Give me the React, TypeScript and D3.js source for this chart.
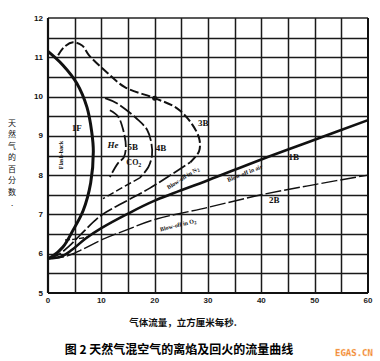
import React from "react";
import * as d3 from "d3";

// ---- data (x: gas flow, cm³/s ; y: % natural gas) ----
const X_TICKS = [0, 10, 20, 30, 40, 50, 60];
const Y_TICKS = [5, 6, 7, 8, 9, 10, 11, 12];

const flashback1F: [number, number][] = [
  [0, 11.15], [2.8, 10.8], [5.4, 10.34], [7.3, 9.73], [8.2, 9.1], [8.5, 8.6],
  [8.0, 7.8], [6.6, 7.1], [4.7, 6.6], [2.8, 6.17], [0.7, 5.92], [0, 5.88],
];
const curve3B: [number, number][] = [
  [1.9, 11.05], [3, 11.26], [4.7, 11.38], [6.4, 11.3], [7.7, 11.05], [11, 10.62],
  [14.4, 10.24], [20, 9.96], [24.2, 9.7], [27, 9.3], [28.4, 8.9], [28.3, 8.6], [26.7, 8.33],
];
const marks3B: [number, number][] = [[3, 11.26], [6.4, 11.3], [7.7, 11.05], [14.4, 10.24], [27, 9.3]];
const dots3B: [number, number][] = [[20, 9.96]];

const curve4B: [number, number][] = [
  [10.7, 9.96], [12.9, 9.83], [16.7, 9.43], [18.6, 9.15], [19.4, 8.8], [19.5, 8.5], [18.8, 8.2], [17.2, 7.93],
];
const tail4B: [number, number][] = [[17.2, 7.93], [13.5, 7.65], [10.3, 7.4]];
const marks4B: [number, number][] = [[12.9, 9.83], [16.7, 9.43], [17.2, 7.93]];

const curve5B: [number, number][] = [
  [11.6, 9.65], [13.1, 9.5], [14.1, 9.15], [14.6, 8.72], [14.2, 8.45], [13.1, 8.3], [11.6, 7.95],
];
const marks5B: [number, number][] = [[13.1, 9.5], [13.1, 8.3]];

const blowN2: [number, number][] = [
  [0, 5.88], [2, 5.98], [4, 6.2], [6, 6.47], [10, 6.98], [14, 7.29], [19.1, 7.67], [26.7, 8.33],
];
const marksN2: [number, number][] = [[14, 7.29], [19.1, 7.67], [26.7, 8.33]];

const shortHe: [number, number][] = [[3.2, 6.35], [5, 6.37], [7.3, 6.42]];
const marksHe: [number, number][] = [[6, 6.4]];

const blowAir: [number, number][] = [
  [0, 5.88], [2.5, 5.93], [4.5, 6.1], [7, 6.38], [10, 6.65], [15, 7.02], [20, 7.35],
  [30, 7.87], [40, 8.4], [50, 8.9], [60, 9.4],
];
const blowO2: [number, number][] = [
  [0, 5.88], [3, 5.92], [6, 6.08], [10, 6.35], [15, 6.62], [20, 6.87], [30, 7.18],
  [40, 7.5], [50, 7.76], [60, 8.0],
];
const marksO2: [number, number][] = [[12.9, 6.5], [30.4, 7.19], [56.6, 7.93]];

const curveLabels = ["1F", "He", "5B", "4B", "3B", "1B", "2B"];
const curveLabelPos: [number, number][] = [
  [5.4, 9.2], [12.2, 8.77], [15.9, 8.72], [21.2, 8.69], [29.1, 9.33], [46.1, 8.46], [42.4, 7.37],
];

const H_GRID = [5.5, 6, 6.5, 7, 7.5, 8, 8.5, 9, 9.5, 10, 10.5, 11, 11.5];
const V_GRID = [5, 10, 15, 20, 25, 30, 35, 40, 45, 50, 55];

const TITLE = "图 2 天然气混空气的离焰及回火的流量曲线";
const X_TITLE = "气体流量，立方厘米每秒.";
const Y_TITLE = "天然气的百分数.";

export default function App() {
  const W = 380, H = 361;
  const x = d3.scaleLinear().domain([0, 60]).range([48, 368]);
  const y = d3.scaleLinear().domain([5, 12]).range([293, 18]);
  const smooth = d3.line<[number, number]>().x(d => x(d[0])).y(d => y(d[1])).curve(d3.curveCatmullRom.alpha(0.5));
  const straight = d3.line<[number, number]>().x(d => x(d[0])).y(d => y(d[1]));

  const snap = (v: number) => Math.round(v) + 0.5;
  // one combined grid path (vertical + horizontal segments)
  const gridPath =
    V_GRID.map(v => `M${snap(x(v))},${y(12)}L${snap(x(v))},${y(5)}`).join("") +
    H_GRID.map(v => `M${x(0)},${snap(y(v))}L${x(60)},${snap(y(v)) + 0.01}`).join("");

  const cross = (p: [number, number], i: number, s = 2.6) => {
    const cx = x(p[0]), cy = y(p[1]);
    return (
      <path key={i} d={`M${cx - s},${cy - s}L${cx + s},${cy + s}M${cx - s},${cy + s}L${cx + s},${cy - s}`}
        stroke="#111" strokeWidth={1.4} />
    );
  };

  const label = (t: string, p: [number, number], i: number) => (
    <text key={i} x={x(p[0])} y={y(p[1])} textAnchor="middle" dominantBaseline="central"
      fontFamily="Liberation Serif, serif" fontWeight="bold" fontStyle={t === "He" ? "italic" : "normal"}
      fontSize={9} fill="#111">{t}</text>
  );

  const rotLabel = (p: [number, number], angle: number, main: string, sub?: string) => (
    <text transform={`translate(${x(p[0])},${y(p[1])}) rotate(${angle})`} textAnchor="middle"
      dominantBaseline="central" fontFamily="Liberation Serif, serif" fontWeight="bold" fontSize={6} fill="#111">
      {main}{sub ? <tspan dy={1.5} fontSize={5}>{sub}</tspan> : null}
    </text>
  );

  return (
    <svg width={W} height={H} viewBox={`0 0 ${W} ${H}`}
      style={{ position: "absolute", left: 0, top: 0, background: "#fff" }}>
      <rect x={0} y={0} width={W} height={H} fill="#fff" />
      {/* grid */}
      <path d={gridPath} fill="none" stroke="#1a1a1a" strokeWidth={1.5} />
      {/* frame */}
      <line x1={x(0)} x2={x(60)} y1={y(12)} y2={y(12)} stroke="#222" strokeWidth={1.5} />
      <line x1={x(60)} x2={x(60)} y1={y(12)} y2={y(5)} stroke="#111" strokeWidth={2} />
      <line x1={x(0)} x2={x(0)} y1={y(12)} y2={y(5)} stroke="#111" strokeWidth={2.2} />
      <line x1={x(0)} x2={x(60)} y1={y(5)} y2={y(5)} stroke="#111" strokeWidth={2.2} />

      {/* curves */}
      <path d={smooth(blowO2) || ""} fill="none" stroke="#111" strokeWidth={1.4} strokeDasharray="16,3" />
      <path d={smooth(blowAir) || ""} fill="none" stroke="#111" strokeWidth={2.6} />
      <path d={smooth(blowN2) || ""} fill="none" stroke="#111" strokeWidth={1.7} strokeDasharray="14,3" />
      <path d={smooth(shortHe) || ""} fill="none" stroke="#111" strokeWidth={1.4} strokeDasharray="5,2" />
      <path d={smooth(curve5B) || ""} fill="none" stroke="#111" strokeWidth={1.8} strokeDasharray="12,3" />
      <path d={smooth(curve4B) || ""} fill="none" stroke="#111" strokeWidth={1.8} strokeDasharray="14,3" />
      <path d={straight(tail4B) || ""} fill="none" stroke="#111" strokeWidth={1.5} strokeDasharray="7,3" />
      <path d={smooth(curve3B) || ""} fill="none" stroke="#111" strokeWidth={2} strokeDasharray="9,3" />
      <path d={smooth(flashback1F) || ""} fill="none" stroke="#111" strokeWidth={3} />

      {marks3B.map(cross)}
      {marks4B.map(cross)}
      {marks5B.map(cross)}
      {marksN2.map(cross)}
      {marksHe.map(cross)}
      {marksO2.map(cross)}
      {dots3B.map((p, i) => <circle key={i} cx={x(p[0])} cy={y(p[1])} r={2.5} fill="#111" />)}

      {/* curve labels */}
      {curveLabels.map((t, i) => label(t, curveLabelPos[i], i))}
      <text x={x(16.1)} y={y(8.31)} textAnchor="middle" dominantBaseline="central"
        fontFamily="Liberation Serif, serif" fontWeight="bold" fontSize={8} fill="#111">
        CO<tspan dy={2} fontSize={6}>2</tspan>
      </text>
      {rotLabel([2.4, 8.51], -90, "Flash-back")}
      {rotLabel([25.3, 7.93], -33, "Blow-off in N", "2")}
      {rotLabel([36.9, 8.05], -22, "Blow-off in air")}
      {rotLabel([24.4, 6.73], -14, "Blow-off in O", "2")}

      {/* tick labels */}
      {Y_TICKS.map(v => (
        <text key={"yt" + v} x={43} y={y(v)} textAnchor="end" dominantBaseline="central"
          fontFamily="Liberation Sans, Arial, sans-serif" fontWeight="bold" fontSize={8} fill="#111">{v}</text>
      ))}
      {X_TICKS.map(v => (
        <text key={"xt" + v} x={x(v)} y={303} textAnchor="middle"
          fontFamily="Liberation Sans, Arial, sans-serif" fontWeight="bold" fontSize={8} fill="#222">{v}</text>
      ))}

      {/* axis titles */}
      <text x={183} y={326} textAnchor="middle" fontFamily="Noto Sans CJK SC, sans-serif" fontWeight="bold"
        fontSize={9.5} fill="#111">{X_TITLE}</text>
      {Array.from(Y_TITLE).map((ch, i) => (
        <text key={"yc" + i} x={12} y={122 + i * 11.5} textAnchor="middle" dominantBaseline="central"
          fontFamily="Noto Sans CJK SC, sans-serif" fontSize={8} fill="#111">{ch}</text>
      ))}

      {/* title */}
      <text x={179} y={354} textAnchor="middle" fontFamily="Noto Sans CJK SC, sans-serif" fontWeight="bold"
        fontSize={12} fill="#000">{TITLE}</text>

      {/* watermark */}
      <text x={354} y={356} textAnchor="middle" fontFamily="DejaVu Sans Mono, monospace" fontWeight="bold"
        fontSize={9} fill="#f07a1a" stroke="#fbd9b0" strokeWidth={0.3}>EGAS.CN</text>
    </svg>
  );
}
